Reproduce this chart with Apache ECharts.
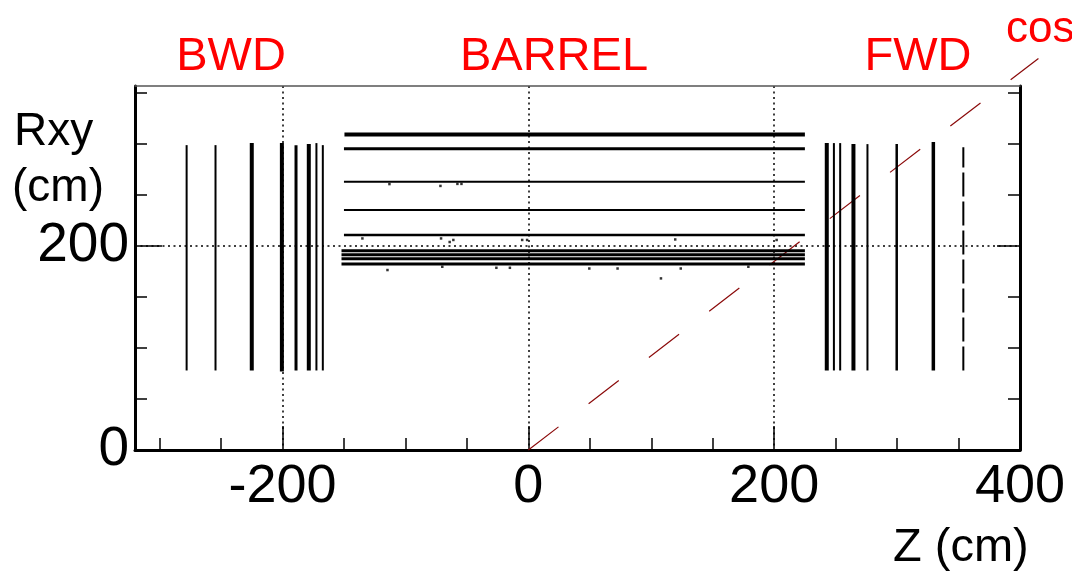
<!DOCTYPE html>
<html>
<head>
<meta charset="utf-8">
<script src="https://cdn.jsdelivr.net/npm/echarts@6/dist/echarts.min.js"></script>
<style>
html,body{margin:0;padding:0;background:#fff;}
#chart{width:1072px;height:571px;}
</style>
</head>
<body>
<div id="chart"></div>
<script>
// ---------- data ----------
const xMinorTicks = [-300, -250, -200, -150, -100, -50, 0, 50, 100, 150, 200, 250, 300, 350, 400];
const xMajorTicks = [-200, 0, 200];
const xTickLabels = [-200, 0, 200, 400];
const yMinorTicks = [0, 50, 100, 150, 200, 250, 300, 350];
const yMajorTicks = [200];
const yTickLabels = [0, 200];

// BWD endcap layers (vertical hit lines): z position, r range
const bwdZ    = [-278, -254.5, -225, -200.5, -189, -178.6, -172.4, -167.2];
const bwdRmin = [78, 78, 78, 77, 78, 78, 78, 78];
const bwdRmax = [299, 299, 301, 301, 299, 300, 301, 299];

// FWD endcap layers
const fwdZ    = [242.8, 248.6, 253.7, 264.5, 275.9, 299.7, 329.5, 353.9];
const fwdRmin = [78, 78, 78, 78, 78, 78, 78, 78];
const fwdRmax = [301, 301, 301, 300, 300, 300, 302, 297];

// BARREL layers (horizontal hit lines): r position, z range
const barrelR    = [309.5, 295.4, 263, 235.3, 210.8, 195.5, 191.5, 187.5, 182.5];
const barrelZmin = [-149.6, -150, -150, -150, -150, -152, -152, -152, -152];
const barrelZmax = [225, 225, 225, 225, 225, 225, 225, 225, 225];

// stray hits
const strayZ = [-113, -71.5, -57.7, -54.4, -135, -71, -64, -61, -5, -1, -114.6, -70, -26, -15, 49.6, 72.6, 107.9, 124, 179, 202, 119.5];
const strayR = [260.8, 259, 261, 261, 207.5, 207.5, 204, 206, 206, 206, 176.5, 179.7, 178.7, 178.7, 178, 178, 168.3, 178, 179.7, 206, 206.5];

// cosmic ray track
const cosmicZ = [0, 415];
const cosmicR = [0, 384];

// ---------- styles ----------
const bwdWidths = [2, 2, 4, 4, 3, 4, 2, 2];
const fwdWidths = [4, 2, 2, 4, 2, 2.5, 3.5, 2];
const fwdTypes  = ['solid','solid','solid','solid','solid','solid','solid',[24,5]];
const barrelWidths = [4, 3, 2, 2, 2.5, 3, 3, 3, 3];
const FONT = 'Liberation Sans, Arial, sans-serif';

const series = [];
function seg(data, width, type) {
  series.push({
    type: 'line', xAxisIndex: 0, yAxisIndex: 0, data: data,
    symbol: 'none', silent: true, animation: false,
    lineStyle: {color: '#000', width: width, type: type || 'solid', cap: 'butt'}
  });
}
bwdZ.forEach((z, i) => seg([[z, bwdRmin[i]], [z, bwdRmax[i]]], bwdWidths[i]));
fwdZ.forEach((z, i) => seg([[z, fwdRmin[i]], [z, fwdRmax[i]]], fwdWidths[i], fwdTypes[i]));
barrelR.forEach((r, i) => seg([[barrelZmin[i], r], [barrelZmax[i], r]], barrelWidths[i]));

series.push({
  type: 'scatter', xAxisIndex: 0, yAxisIndex: 0, silent: true, animation: false,
  symbol: 'rect', symbolSize: 2.5, itemStyle: {color: '#000'},
  data: strayZ.map((z, i) => [z, strayR[i]])
});
series.push({
  type: 'lines', coordinateSystem: 'cartesian2d', xAxisIndex: 0, yAxisIndex: 0,
  silent: true, animation: false, clip: false, polyline: false,
  data: [{coords: cosmicZ.map((z, i) => [z, cosmicR[i]])}],
  lineStyle: {color: '#8b0a0a', width: 1.2, type: [38, 38], opacity: 1, curveness: 0}
});

const dotted = {show: true, lineStyle: {color: '#000', width: 1.5, type: [2, 3.5]}};
const option = {
  backgroundColor: '#fff',
  animation: false,
  grid: {left: 135, right: 52, top: 86, bottom: 121},
  xAxis: [
    {type: 'value', min: -320, max: 400, position: 'bottom',
     axisLine: {show: true, onZero: false, lineStyle: {color: '#000', width: 3}},
     axisTick: {show: true, inside: true, length: 12, customValues: xMinorTicks, lineStyle: {color: '#000', width: 1.5}},
     axisLabel: {show: true, customValues: xTickLabels, fontSize: 54, color: '#000', fontFamily: FONT, margin: 10},
     splitLine: {show: false}},
    {type: 'value', min: -320, max: 400, position: 'bottom',
     axisLine: {show: false, onZero: false},
     axisTick: {show: true, inside: true, length: 24, customValues: xMajorTicks, lineStyle: {color: '#000', width: 1.5}},
     axisLabel: {show: false},
     splitLine: dotted},
    {type: 'value', min: -320, max: 400, position: 'top',
     axisLine: {show: true, onZero: false, lineStyle: {color: '#555', width: 1.5}},
     axisTick: {show: false}, axisLabel: {show: false}, splitLine: {show: false}}
  ],
  yAxis: [
    {type: 'value', min: 0, max: 357, position: 'left',
     axisLine: {show: true, onZero: false, lineStyle: {color: '#000', width: 3}},
     axisTick: {show: true, inside: true, length: 12, customValues: yMinorTicks, lineStyle: {color: '#000', width: 1.5}},
     axisLabel: {show: true, customValues: yTickLabels, fontSize: 55, color: '#000', fontFamily: FONT, margin: 6},
     splitLine: {show: false}},
    {type: 'value', min: 0, max: 357, position: 'left',
     axisLine: {show: false, onZero: false},
     axisTick: {show: true, inside: true, length: 27, customValues: yMajorTicks, lineStyle: {color: '#000', width: 1.5}},
     axisLabel: {show: false},
     splitLine: dotted},
    {type: 'value', min: 0, max: 357, position: 'right',
     axisLine: {show: true, onZero: false, lineStyle: {color: '#000', width: 3}},
     axisTick: {show: true, inside: true, length: 12, customValues: yMinorTicks, lineStyle: {color: '#000', width: 1.5}},
     axisLabel: {show: false}, splitLine: {show: false}},
    {type: 'value', min: 0, max: 357, position: 'right',
     axisLine: {show: false, onZero: false},
     axisTick: {show: true, inside: true, length: 23, customValues: yMajorTicks, lineStyle: {color: '#000', width: 1.5}},
     axisLabel: {show: false}, splitLine: {show: false}}
  ],
  graphic: [
    {type: 'text', left: 14, top: 109, style: {text: 'Rxy', fontSize: 46, fontFamily: FONT, fill: '#000'}},
    {type: 'text', left: 12, top: 165, style: {text: '(cm)', fontSize: 46, fontFamily: FONT, fill: '#000'}},
    {type: 'text', left: 893, top: 525, style: {text: 'Z (cm)', fontSize: 47, fontFamily: FONT, fill: '#000'}},
    {type: 'text', x: 231, y: 34, style: {text: 'BWD', fontSize: 47, fontFamily: FONT, fill: '#ff0000', align: 'center'}},
    {type: 'text', x: 554, y: 34, style: {text: 'BARREL', fontSize: 47, fontFamily: FONT, fill: '#ff0000', align: 'center'}},
    {type: 'text', x: 918, y: 34, style: {text: 'FWD', fontSize: 47, fontFamily: FONT, fill: '#ff0000', align: 'center'}},
    {type: 'text', x: 1006, y: 8, style: {text: 'cos', fontSize: 44, fontFamily: FONT, fill: '#ff0000'}}
  ],
  series: series
};

const chart = echarts.init(document.getElementById('chart'), null, {renderer: 'canvas'});
chart.setOption(option);
</script>
</body>
</html>
